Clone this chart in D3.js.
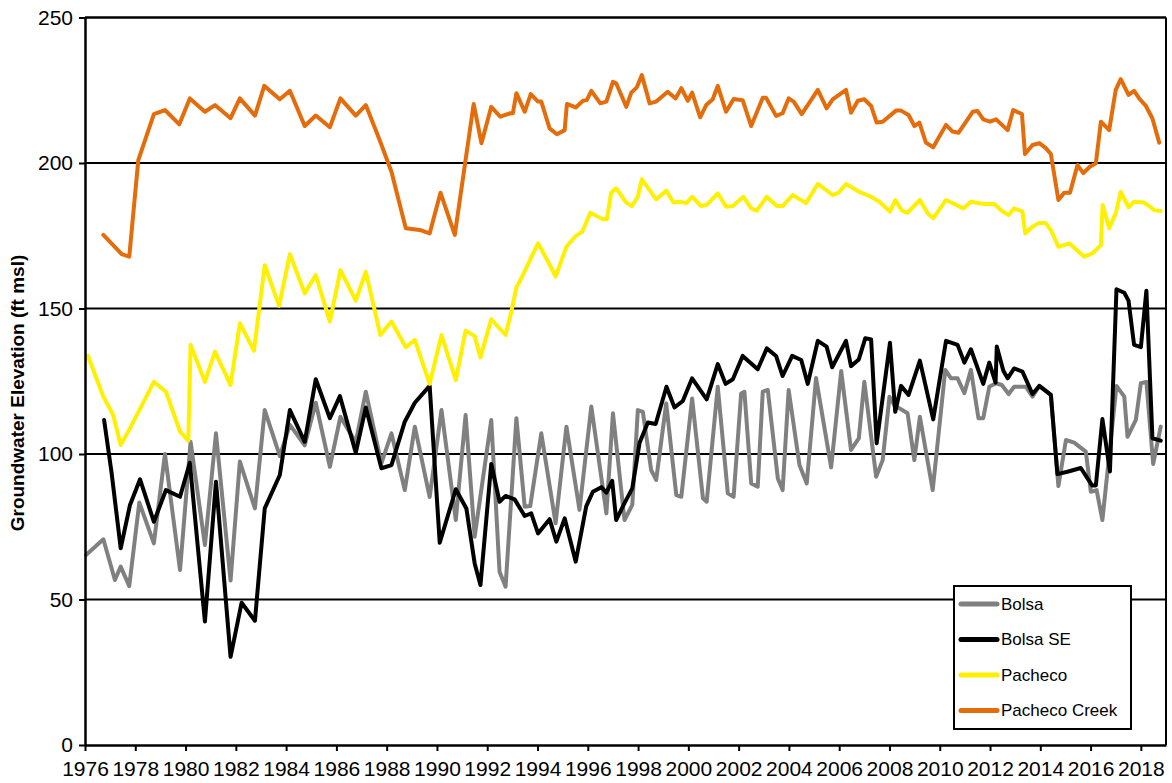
<!DOCTYPE html>
<html><head><meta charset="utf-8">
<script src="https://cdn.jsdelivr.net/npm/d3@7"></script>
<style>
html,body{margin:0;padding:0;background:#fff;}
svg{display:block;font-family:"Liberation Sans",Arial,sans-serif;}
</style></head>
<body>
<svg id="chart" width="1172" height="783"></svg>
<script>
// ---- data: [decimal year, elevation ft msl] ----
const seriesNames = ["Bolsa","Bolsa SE","Pacheco","Pacheco Creek"];
const seriesColors = ["#808080","#000000","#FFF000","#E46C0A"];
const xTickYears = d3.range(1976, 2019, 2);
const yTickValues = [0,50,100,150,200,250];

const bolsa = [[1976.04,65.3],[1976.73,70.7],[1977.19,56.7],[1977.42,61.3],[1977.76,54.6],[1978.16,83.3],[1978.74,69.3],[1979.18,100.0],[1979.78,60.1],[1980.20,104.2],[1980.77,68.7],[1981.21,107.1],[1981.79,56.5],[1982.16,97.4],[1982.76,81.3],[1983.15,115.1],[1983.75,99.3],[1984.15,110],[1984.74,103],[1985.18,117.6],[1985.74,95.6],[1986.16,112.8],[1986.77,104],[1987.17,121.4],[1987.79,96.8],[1988.19,107.1],[1988.72,87.6],[1989.12,109.4],[1989.71,85.2],[1990.18,115.1],[1990.75,77.3],[1991.14,113.4],[1991.50,71.6],[1992.16,111.7],[1992.49,59.5],[1992.73,54.4],[1993.16,112.3],[1993.49,81.9],[1993.71,82.1],[1994.15,107.1],[1994.72,76.2],[1995.15,109.4],[1995.67,80.8],[1996.14,116.3],[1996.74,79.6],[1997.00,114.0],[1997.46,77.3],[1997.77,82.5],[1997.99,115.1],[1998.19,114.5],[1998.52,94.5],[1998.72,91.1],[1999.12,117.4],[1999.52,85.9],[1999.72,85.3],[2000.15,119.1],[2000.58,84.8],[2000.73,83.6],[2001.17,123.1],[2001.57,86.5],[2001.80,85.3],[2002.10,120.8],[2002.23,121.4],[2002.50,89.9],[2002.76,88.8],[2002.96,121.4],[2003.16,122.0],[2003.56,91.6],[2003.75,87.6],[2003.99,122.0],[2004.42,96.2],[2004.71,89.9],[2005.08,126.1],[2005.68,95.4],[2006.08,128.5],[2006.47,101.4],[2006.78,105.4],[2007.00,124.8],[2007.47,92.2],[2007.73,97.9],[2008.00,119.7],[2008.19,116.8],[2008.72,114.0],[2008.99,97.9],[2009.21,112.8],[2009.72,87.6],[2010.22,128.9],[2010.45,126.0],[2010.71,126.0],[2010.98,120.9],[2011.24,128.9],[2011.54,112.3],[2011.73,112.3],[2011.97,123.1],[2012.24,124.3],[2012.47,123.7],[2012.74,120.6],[2012.96,123.1],[2013.43,123.1],[2013.69,119.7],[2013.96,123.4],[2014.42,120.3],[2014.72,89.0],[2015.02,104.8],[2015.35,103.9],[2015.81,100.8],[2016.01,87.0],[2016.24,87.6],[2016.47,77.3],[2017.03,123.4],[2017.34,119.7],[2017.47,105.9],[2017.80,111.7],[2018.00,124.3],[2018.22,124.8],[2018.49,96.6],[2018.79,109.4]];

const bolsaSE = [[1976.76,111.7],[1977.06,93.4],[1977.42,67.6],[1977.79,82.5],[1978.19,91.3],[1978.74,76.7],[1979.22,87.6],[1979.78,85.3],[1980.17,97.0],[1980.77,42.4],[1981.21,90.5],[1981.79,30.3],[1982.23,48.9],[1982.76,42.7],[1983.15,81.3],[1983.75,92.8],[1984.15,115.1],[1984.74,104.2],[1985.18,125.7],[1985.74,112.3],[1986.14,119.9],[1986.77,100.4],[1987.17,116.0],[1987.79,95.1],[1988.19,96.2],[1988.72,111.1],[1989.12,117.6],[1989.71,123.4],[1990.11,69.5],[1990.75,87.9],[1991.17,81.3],[1991.50,62.4],[1991.73,55.0],[1992.16,96.6],[1992.49,83.6],[1992.73,85.6],[1993.09,84.4],[1993.49,78.7],[1993.75,79.6],[1994.02,72.7],[1994.48,77.6],[1994.75,69.9],[1995.08,77.9],[1995.52,63.0],[1995.94,82.1],[1996.20,87.0],[1996.54,88.6],[1996.74,86.7],[1996.97,90.8],[1997.13,77.3],[1997.46,83.1],[1997.77,88.2],[1998.06,103.9],[1998.39,110.8],[1998.70,110.3],[1999.13,123.1],[1999.45,116.0],[1999.78,118.2],[2000.15,126.0],[2000.73,118.8],[2001.17,130.9],[2001.48,124.1],[2001.77,125.7],[2002.16,133.7],[2002.76,129.1],[2003.12,136.3],[2003.49,133.7],[2003.75,126.8],[2004.13,133.7],[2004.49,132.3],[2004.75,124.1],[2005.15,138.9],[2005.50,136.9],[2005.72,129.8],[2006.27,138.9],[2006.47,130.2],[2006.78,132.5],[2007.04,139.8],[2007.27,139.4],[2007.49,103.7],[2008.02,138.2],[2008.23,114.5],[2008.46,123.4],[2008.76,120.3],[2009.21,132.1],[2009.74,111.9],[2010.25,138.9],[2010.71,137.5],[2010.98,131.4],[2011.24,136.0],[2011.73,124.1],[2011.97,131.4],[2012.22,124.5],[2012.27,136.9],[2012.53,128.6],[2012.70,126.0],[2012.96,129.4],[2013.29,128.3],[2013.69,120.6],[2013.96,123.4],[2014.42,120.3],[2014.68,93.1],[2015.08,93.9],[2015.61,95.2],[2016.06,89.2],[2016.21,89.2],[2016.47,112.0],[2016.77,94.0],[2017.03,156.6],[2017.34,155.4],[2017.51,152.7],[2017.73,137.5],[2018.00,136.7],[2018.22,156.1],[2018.46,105.4],[2018.79,104.6]];

const pacheco = [[1976.12,133.7],[1976.73,119.7],[1977.12,113.4],[1977.42,103.1],[1977.79,108.8],[1978.74,124.8],[1979.22,121.4],[1979.78,107.7],[1980.11,104.6],[1980.20,137.5],[1980.77,124.8],[1981.17,135.2],[1981.79,123.7],[1982.16,144.9],[1982.72,135.5],[1983.15,164.9],[1983.72,150.9],[1984.15,168.7],[1984.74,155.2],[1985.18,161.5],[1985.74,145.5],[1986.16,163.2],[1986.77,152.7],[1987.17,162.6],[1987.75,140.9],[1988.19,145.5],[1988.76,136.7],[1989.12,139.2],[1989.71,124.1],[1990.18,140.9],[1990.75,125.4],[1991.14,142.4],[1991.50,140.5],[1991.73,133.2],[1992.16,146.3],[1992.73,140.9],[1992.96,148.9],[1993.16,157.3],[1993.29,159.2],[1994.02,172.4],[1994.35,167.2],[1994.72,161.0],[1995.15,171.2],[1995.52,174.9],[1995.78,176.4],[1996.10,182.9],[1996.60,180.7],[1996.76,180.7],[1996.93,189.8],[1997.13,191.3],[1997.53,186.4],[1997.75,185.2],[1997.99,188.4],[1998.15,194.4],[1998.72,187.5],[1999.12,190.5],[1999.41,186.4],[1999.65,186.7],[1999.92,186.2],[2000.15,188.4],[2000.51,185.2],[2000.73,185.6],[2001.17,189.6],[2001.50,185.0],[2001.77,185.2],[2002.19,188.4],[2002.50,184.4],[2002.72,183.6],[2003.12,188.4],[2003.52,185.2],[2003.75,185.2],[2004.15,189.0],[2004.68,186.2],[2005.15,192.8],[2005.74,189.0],[2005.98,189.8],[2006.27,192.8],[2006.80,190.1],[2007.27,188.4],[2007.60,186.7],[2008.02,183.3],[2008.23,187.3],[2008.50,183.6],[2008.72,182.9],[2009.21,187.3],[2009.52,182.7],[2009.74,181.0],[2010.25,187.3],[2010.94,184.4],[2011.24,186.7],[2011.77,185.9],[2012.17,185.9],[2012.50,183.3],[2012.74,182.1],[2012.96,184.4],[2013.29,183.3],[2013.40,175.8],[2013.69,178.1],[2013.96,179.5],[2014.22,179.3],[2014.42,177.0],[2014.72,171.2],[2015.15,172.4],[2015.75,167.8],[2016.08,169.0],[2016.41,171.8],[2016.48,185.6],[2016.74,177.6],[2017.00,182.7],[2017.20,190.1],[2017.51,184.8],[2017.73,186.7],[2018.13,186.4],[2018.33,185.2],[2018.53,183.8],[2018.79,183.5]];

const pachecoCreek = [[1976.73,175.3],[1977.46,168.7],[1977.76,167.8],[1978.12,201.0],[1978.74,216.8],[1979.18,218.2],[1979.75,213.3],[1980.17,222.2],[1980.77,217.6],[1981.17,219.9],[1981.79,215.4],[1982.16,222.2],[1982.76,216.3],[1983.13,226.5],[1983.75,221.9],[1984.15,224.8],[1984.74,212.7],[1985.18,216.3],[1985.74,212.3],[1986.16,222.2],[1986.77,216.3],[1987.17,219.9],[1987.72,207.9],[1988.19,197.0],[1988.76,177.6],[1989.31,177.0],[1989.71,175.8],[1990.14,189.8],[1990.71,175.3],[1991.46,220.3],[1991.77,206.8],[1992.16,219.3],[1992.52,215.9],[1992.92,217.1],[1993.02,217.1],[1993.16,224.0],[1993.49,217.6],[1993.73,223.7],[1994.02,221.1],[1994.15,221.1],[1994.48,211.9],[1994.77,209.9],[1995.08,211.3],[1995.17,220.3],[1995.52,219.1],[1995.81,221.4],[1995.96,221.6],[1996.14,224.8],[1996.50,220.5],[1996.74,221.1],[1997.00,227.9],[1997.13,227.4],[1997.53,219.3],[1997.73,224.2],[1997.95,226.0],[1998.15,230.2],[1998.46,220.5],[1998.72,221.1],[1999.18,224.5],[1999.49,222.2],[1999.72,225.7],[1999.98,221.4],[2000.15,224.2],[2000.47,215.7],[2000.71,219.9],[2000.97,221.9],[2001.17,226.5],[2001.50,217.6],[2001.80,222.0],[2002.16,221.6],[2002.50,212.7],[2002.96,222.4],[2003.09,222.4],[2003.49,216.2],[2003.75,217.1],[2003.99,222.2],[2004.19,221.1],[2004.51,216.8],[2005.15,225.1],[2005.50,218.8],[2005.74,221.9],[2006.27,225.1],[2006.47,217.3],[2006.74,221.4],[2007.00,221.9],[2007.27,219.6],[2007.49,213.9],[2007.73,214.2],[2008.26,218.0],[2008.46,218.0],[2008.76,216.5],[2008.99,212.7],[2009.19,213.9],[2009.45,207.0],[2009.74,205.4],[2010.25,213.1],[2010.51,210.8],[2010.75,210.4],[2011.31,217.6],[2011.50,217.9],[2011.73,215.0],[2012.00,214.2],[2012.24,215.0],[2012.70,211.3],[2012.92,218.2],[2013.27,216.8],[2013.39,203.1],[2013.69,206.2],[2013.96,206.8],[2014.22,205.1],[2014.42,203.1],[2014.72,187.3],[2014.95,189.8],[2015.18,189.8],[2015.48,199.3],[2015.71,196.5],[2015.97,198.7],[2016.21,199.9],[2016.41,214.2],[2016.74,211.3],[2017.00,225.1],[2017.20,228.8],[2017.51,223.4],[2017.73,224.8],[2017.96,221.9],[2018.20,219.6],[2018.46,215.3],[2018.73,207.0]];

const allSeries = [bolsa, bolsaSE, pacheco, pachecoCreek];

// ---- layout ----
const W = 1172, H = 783;
const m = {left:85, right:6, top:17.5, bottom:38};
const svg = d3.select("#chart");
const x = d3.scaleLinear().domain([1976, 2019]).range([m.left, W - m.right]);
const y = d3.scaleLinear().domain([0, 250]).range([H - m.bottom, m.top]);

// gridlines
svg.append("g").selectAll("line").data(yTickValues.filter(v => v > 0 && v < 250)).join("line")
  .attr("x1", x(1976)).attr("x2", x(2019))
  .attr("y1", d => y(d)).attr("y2", d => y(d))
  .attr("stroke", "#000").attr("stroke-width", 2);

// frame top & right
svg.append("line").attr("x1", x(1976)).attr("x2", x(2019)).attr("y1", y(250)).attr("y2", y(250))
  .attr("stroke","#000").attr("stroke-width",2.5);
svg.append("line").attr("x1", x(2019)).attr("x2", x(2019)).attr("y1", y(250)).attr("y2", y(0))
  .attr("stroke","#000").attr("stroke-width",2);

// series
const line = d3.line().x(d => x(d[0])).y(d => y(d[1]));
svg.append("g").selectAll("path").data(allSeries).join("path")
  .attr("d", line)
  .attr("fill","none")
  .attr("stroke", (d,i) => seriesColors[i])
  .attr("stroke-width", 4)
  .attr("stroke-linejoin","round")
  .attr("stroke-linecap","round");

// axes
const xAxis = d3.axisBottom(x).tickValues(xTickYears).tickFormat(d3.format("d")).tickSize(6).tickSizeOuter(0);
const gx = svg.append("g").attr("transform", `translate(0,${y(0)})`).call(xAxis);
gx.select(".domain").attr("stroke","#000").attr("stroke-width",2.5);
gx.selectAll(".tick line").attr("stroke","#000").attr("stroke-width",2);
gx.selectAll(".tick text").attr("fill","#000").attr("font-size",21).attr("dy","0.75em").attr("y",15)
  .attr("font-family","'Liberation Sans',Arial,sans-serif");

const yAxis = d3.axisLeft(y).tickValues(yTickValues).tickFormat(d3.format("d")).tickSize(6).tickSizeOuter(0);
const gy = svg.append("g").attr("transform", `translate(${x(1976)},0)`).call(yAxis);
gy.select(".domain").attr("stroke","#000").attr("stroke-width",2.5);
gy.selectAll(".tick line").attr("stroke","#000").attr("stroke-width",2);
gy.selectAll(".tick text").attr("fill","#000").attr("font-size",21).attr("x",-12)
  .attr("font-family","'Liberation Sans',Arial,sans-serif");

// y title
svg.append("text")
  .attr("transform", `translate(24,393) rotate(-90)`)
  .attr("text-anchor","middle")
  .attr("font-size",19).attr("font-weight","bold")
  .text("Groundwater Elevation (ft msl)");

// legend
const lg = svg.append("g").attr("transform","translate(954,586)");
lg.append("rect").attr("width",177).attr("height",143).attr("fill","#fff").attr("stroke","#000").attr("stroke-width",2);
const li = lg.selectAll("g.item").data(seriesNames).join("g").attr("class","item")
  .attr("transform",(d,i)=>`translate(0,${18 + i*35.5})`);
li.append("line").attr("x1",7).attr("x2",43).attr("stroke",(d,i)=>seriesColors[i]).attr("stroke-width",5).attr("stroke-linecap","round");
li.append("text").attr("x",47).attr("dy","0.35em").attr("font-size",17).text(d=>d);
</script>
</body></html>
